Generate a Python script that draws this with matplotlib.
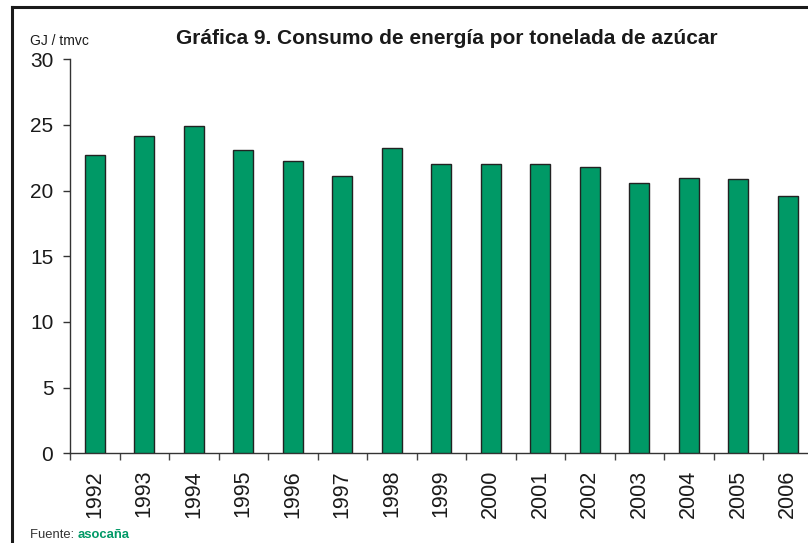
import matplotlib
matplotlib.use("Agg")
import matplotlib.pyplot as plt
from matplotlib.lines import Line2D
import numpy as np

years = ["1992", "1993", "1994", "1995", "1996", "1997", "1998", "1999",
         "2000", "2001", "2002", "2003", "2004", "2005", "2006"]
values = [22.75, 24.15, 24.9, 23.1, 22.25, 21.15, 23.25, 22.0,
          22.0, 22.0, 21.8, 20.55, 21.0, 20.85, 19.6]
yticks = [0, 5, 10, 15, 20, 25, 30]

plt.rcParams['font.family'] = ['Liberation Sans', 'DejaVu Sans']

W, H = 808, 543
fig = plt.figure(figsize=(W / 100, H / 100), dpi=100)
fig.patch.set_facecolor("white")

left = 70 / W
right = 812.5 / W
bottom = 1 - 453.3 / H
top = 1 - 59.3 / H
ax = fig.add_axes([left, bottom, right - left, top - bottom])

x = np.arange(len(years))
ax.bar(x, values, width=0.41, color="#009966", edgecolor="#222222", linewidth=1.0, zorder=3)

ax.set_xlim(-0.5, len(years) - 0.5)
ax.set_ylim(0, 30)
ax.set_yticks(yticks)
ax.set_yticklabels([str(v) for v in yticks], fontsize=15, color="#1a1a1a")
ax.tick_params(axis="y", direction="out", length=5, width=1, color="#333333", pad=7)

ax.set_xticks(x)
ax.set_xticklabels(years, rotation=90, fontsize=15.5, color="#1a1a1a")
ax.tick_params(axis="x", which="major", length=0, pad=12)
ax.set_xticks(np.arange(-0.5, len(years), 1.0), minor=True)
ax.tick_params(axis="x", which="minor", direction="out", length=5, width=1, color="#444444")

for s in ["top", "right"]:
    ax.spines[s].set_visible(False)
ax.spines["left"].set_color("#333333")
ax.spines["bottom"].set_color("#333333")
ax.spines["left"].set_linewidth(1)
ax.spines["bottom"].set_linewidth(1)

fig.text(447 / W, 1 - 38 / H, "Gráfica 9. Consumo de energía por tonelada de azúcar",
         ha="center", va="center", fontsize=15, fontweight="bold", color="#1a1a1a")
fig.text(30 / W, 1 - 41 / H, "GJ / tmvc", ha="left", va="center", fontsize=10, color="#1a1a1a")

t1 = fig.text(30 / W, 1 - 535 / H, "Fuente: ", ha="left", va="center", fontsize=9.4, color="#333333")
fig.canvas.draw()
bb = t1.get_window_extent()
fig.text(bb.x1 / W, 1 - 535 / H, "asocaña", ha="left", va="center", fontsize=9.4,
         fontweight="bold", color="#009966")

# frame lines (left and top)
fig.add_artist(Line2D([12 / W, 12 / W], [0, 1 - 7 / H], color="#1a1a1a", linewidth=2.2,
                      transform=fig.transFigure))
fig.add_artist(Line2D([12 / W, 1], [1 - 7 / H, 1 - 7 / H], color="#1a1a1a", linewidth=2.2,
                      transform=fig.transFigure))

fig.savefig("out.png", dpi=100, facecolor="white")
